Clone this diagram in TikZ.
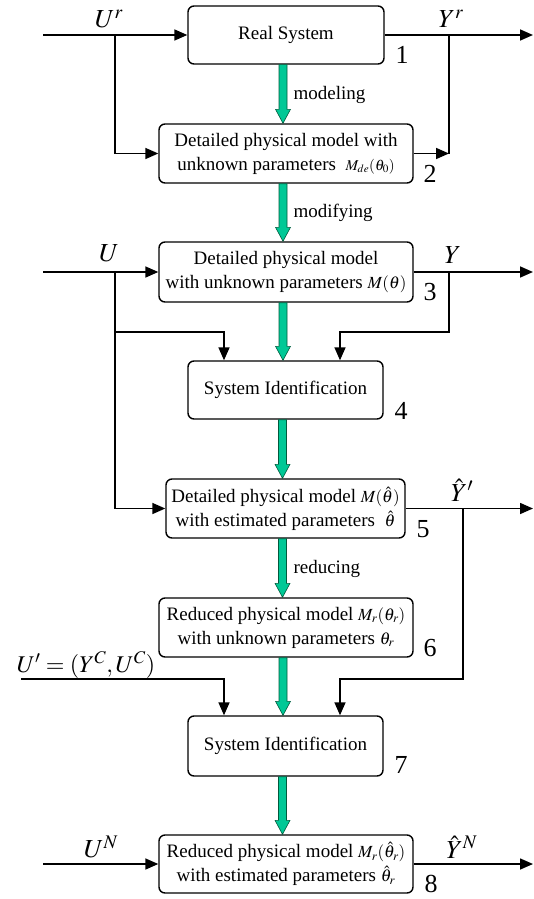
\documentclass[tikz,border=0pt]{standalone}
\usepackage{mathptmx}
\usepackage{fontspec}
\setmainfont{Liberation Serif}
\usetikzlibrary{arrows.meta,calc}
\definecolor{gfill}{RGB}{0,200,150}
\definecolor{gline}{RGB}{0,90,60}
\newcommand{\garrow}[2]{%
  \path[fill=gfill,draw=gline,line width=0.6pt] let \p1=([xshift=-3pt]#1.south), \p2=(#2.north) in
    (\x1-4pt,\y1) -- (\x1+4pt,\y1) -- (\x1+4pt,\y2+14pt) -- (\x1+7.5pt,\y2+14pt) --
    (\x1,\y2) -- (\x1-7.5pt,\y2+14pt) -- (\x1-4pt,\y2+14pt) -- cycle;}
\begin{document}
\begin{tikzpicture}[x=1pt,y=-1pt,
  box/.style={draw,line width=1.4pt,rounded corners=6pt,align=center,inner sep=2pt,
    font=\fontsize{19}{24}\selectfont},
  sig/.style={line width=1.6pt,-{Triangle[length=13pt,width=11pt]}},
  wire/.style={line width=1.6pt},
  lab/.style={font=\fontsize{26}{30}\selectfont,inner sep=1pt},
  num/.style={font=\fontsize{26}{30}\selectfont,inner sep=0pt},
  gtxt/.style={font=\fontsize{19}{22}\selectfont,anchor=west},
  sm/.style={}
]
\useasboundingbox (0,0) rectangle (534,899);
% boxes
\node[box,minimum width=196pt,minimum height=58pt] (B1) at (286,35) {Real System};
\node[box,minimum width=254pt,minimum height=59pt] (B2) at (286,153.5)
  {Detailed physical model with\\unknown parameters \ {\fontsize{15}{15}\selectfont$M_{de}(\theta_0)$}};
\node[box,minimum width=254pt,minimum height=60pt] (B3) at (286,272)
  {Detailed physical model\\with unknown parameters {\fontsize{17}{17}\selectfont$M(\theta)$}};
\node[box,minimum width=195pt,minimum height=58pt] (B4) at (285.5,390) {System Identification};
\node[box,minimum width=239pt,minimum height=59pt] (B5) at (285.5,508.5)
  {Detailed physical model {\fontsize{17}{17}\selectfont$M(\hat\theta)$}\\with estimated parameters \ {\fontsize{17}{17}\selectfont$\hat\theta$}};
\node[box,minimum width=254pt,minimum height=59pt] (B6) at (286,627.5)
  {Reduced physical model {\fontsize{17}{17}\selectfont$M_r(\theta_r)$}\\with unknown parameters {\fontsize{17}{17}\selectfont$\theta_r$}};
\node[box,minimum width=195pt,minimum height=60pt] (B7) at (285.5,746) {System Identification};
\node[box,minimum width=254pt,minimum height=58pt] (B8) at (286,864)
  {Reduced physical model {\fontsize{17}{17}\selectfont$M_r(\hat\theta_r)$}\\with estimated parameters {\fontsize{17}{17}\selectfont$\hat\theta_r$}};
% green arrows
\garrow{B1}{B2}
\garrow{B2}{B3}
\garrow{B3}{B4}
\garrow{B4}{B5}
\garrow{B5}{B6}
\garrow{B6}{B7}
\garrow{B7}{B8}
\node[gtxt] (g1) at (290,95) {modeling};
\node[gtxt] (g2) at (290,213) {modifying};
\node[gtxt] (g3) at (290,569) {reducing};
% coordinates
\coordinate (i1) at (43,35);
\coordinate (j1) at (115,35);
\coordinate (o1) at (533,35);
\coordinate (k1) at (449,35);
\coordinate (k2) at (449,153.5);
\coordinate (i3) at (43,272);
\coordinate (j3) at (115,272);
\coordinate (j4) at (115,332);
\coordinate (o3) at (533,272);
\coordinate (k3) at (449,272);
\coordinate (k4) at (449,332);
\coordinate (o5) at (533,508.5);
\coordinate (k5) at (463,508.5);
\coordinate (k6) at (463,679);
\coordinate (u7) at (21,679);
\coordinate (i8) at (43,864);
\coordinate (o8) at (533,864);
% connectors
\draw[sig] (i1) -- (B1.west);
\draw[sig] (j1) |- (B2.west);
\draw[sig] (B1.east) -- (o1);
\draw[wire] (k1) -- (k2);
\draw[sig] (B2.east) -- (k2);
\draw[sig] (i3) -- (B3.west);
\draw[sig] (j3) |- (B5.west);
\draw[sig] (j4) -| ([xshift=-61.5pt]B4.north);
\draw[sig] (B3.east) -- (o3);
\draw[sig] (k3) -- (k4) -| ([xshift=54.5pt]B4.north);
\draw[sig] (B5.east) -- (o5);
\draw[sig] (k5) -- (k6) -| ([xshift=54.5pt]B7.north);
\draw[sig] (u7) -| ([xshift=-61.5pt]B7.north);
\draw[sig] (i8) -- (B8.west);
\draw[sig] (B8.east) -- (o8);
% labels
\node[lab] (lUr) at (109,19) {$U^r$};
\node[lab] (lYr) at (451,19) {$Y^r$};
\node[lab] (lU) at (109,253) {$U$};
\node[lab] (lY) at (453,255) {$Y$};
\node[lab] (lYp) at (462,490) {$\hat{Y}'$};
\node[font=\fontsize{24}{28}\selectfont,inner sep=1pt] (lUp) at (86,665) {$U'=(Y^C,U^C)$};
\node[lab] (lUN) at (101,847) {$U^N$};
\node[lab] (lYN) at (462,847) {$\hat{Y}^N$};
% numbers
\node[num] (n1) at (402,55) {1};
\node[num] (n2) at (430,174) {2};
\node[num] (n3) at (430,292) {3};
\node[num] (n4) at (401,411) {4};
\node[num] (n5) at (423,529) {5};
\node[num] (n6) at (430,648) {6};
\node[num] (n7) at (401,765) {7};
\node[num] (n8) at (431,884) {8};
\end{tikzpicture}
\end{document}
